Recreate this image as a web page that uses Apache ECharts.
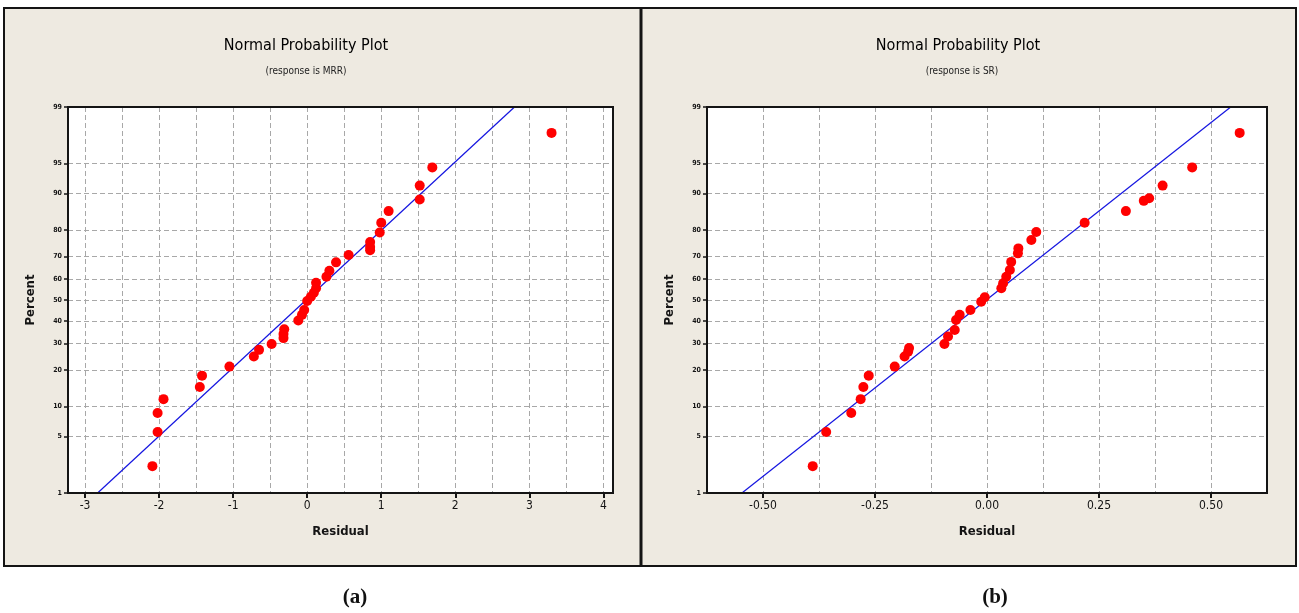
<!DOCTYPE html>
<html><head><meta charset="utf-8">
<script src="https://cdn.jsdelivr.net/npm/echarts@6/dist/echarts.min.js"></script>
<style>html,body{margin:0;padding:0;background:#fff}#c{width:1299px;height:613px}</style>
</head><body><div id="c"></div>
<script>
// ---------- data ----------
const pctTicks = [1, 5, 10, 20, 30, 40, 50, 60, 70, 80, 90, 95, 99];
const xTicksA = [-3, -2, -1, 0, 1, 2, 3, 4];
const xGridA = [-3, -2.5, -2, -1.5, -1, -0.5, 0, 0.5, 1, 1.5, 2, 2.5, 3, 3.5, 4];
const xTicksB = [-0.5, -0.25, 0, 0.25, 0.5];

// panel (a): response is MRR
const residA = [-2.09, -2.02, -2.02, -1.94, -1.45, -1.42, -1.05, -0.72, -0.65, -0.48, -0.32, -0.32, -0.31, -0.12, -0.07, -0.04, 0.00, 0.05, 0.09, 0.12, 0.12, 0.26, 0.30, 0.39, 0.56, 0.85, 0.85, 0.85, 0.98, 1.00, 1.10, 1.52, 1.52, 1.69, 3.30];
const pctA   = [2.26, 5.59, 8.66, 11.6, 14.7, 18.1, 21.1, 24.8, 27.4, 29.8, 32.3, 34.1, 36.2, 40.2, 42.9, 45.2, 49.5, 51.6, 53.5, 55.6, 58.2, 61.0, 63.8, 67.5, 70.6, 72.6, 73.9, 75.8, 79.2, 82.4, 85.8, 88.7, 91.6, 94.5, 97.8];
const fitResidA = [-2.83, 2.80];
const fitPctA = [1, 99];

// panel (b): response is SR
const residB = [-0.389, -0.359, -0.303, -0.282, -0.276, -0.264, -0.206, -0.184, -0.176, -0.174, -0.095, -0.087, -0.072, -0.069, -0.061, -0.037, -0.013, -0.005, 0.032, 0.036, 0.043, 0.051, 0.054, 0.069, 0.070, 0.099, 0.110, 0.218, 0.310, 0.350, 0.362, 0.392, 0.458, 0.564];
const pctB   = [2.26, 5.59, 8.66, 11.6, 14.7, 18.1, 21.1, 24.8, 26.7, 28.1, 29.8, 33.0, 35.9, 40.5, 42.9, 45.2, 49.2, 51.3, 55.6, 58.0, 61.0, 64.1, 67.7, 71.3, 73.3, 76.5, 79.4, 82.4, 85.8, 88.4, 89.0, 91.6, 94.5, 97.8];
const fitResidB = [-0.547, 0.544];
const fitPctB = [1, 99];

// ---------- normal probability scale ----------
function probit(p) {
  const a=[-3.969683028665376e+01,2.209460984245205e+02,-2.759285104469687e+02,1.383577518672690e+02,-3.066479806614716e+01,2.506628277459239e+00];
  const b=[-5.447609879822406e+01,1.615858368580409e+02,-1.556989798598866e+02,6.680131188771972e+01,-1.328068155288572e+01];
  const c=[-7.784894002430293e-03,-3.223964580411365e-01,-2.400758277161838e+00,-2.549732539343734e+00,4.374664141464968e+00,2.938163982698783e+00];
  const d=[7.784695709041462e-03,3.224671290700398e-01,2.445134137142996e+00,3.754408661907416e+00];
  const pl=0.02425, ph=1-pl; let q, r;
  if (p < pl) { q=Math.sqrt(-2*Math.log(p)); return (((((c[0]*q+c[1])*q+c[2])*q+c[3])*q+c[4])*q+c[5])/((((d[0]*q+d[1])*q+d[2])*q+d[3])*q+1); }
  if (p <= ph) { q=p-0.5; r=q*q; return (((((a[0]*r+a[1])*r+a[2])*r+a[3])*r+a[4])*r+a[5])*q/(((((b[0]*r+b[1])*r+b[2])*r+b[3])*r+b[4])*r+1); }
  q=Math.sqrt(-2*Math.log(1-p)); return -(((((c[0]*q+c[1])*q+c[2])*q+c[3])*q+c[4])*q+c[5])/((((d[0]*q+d[1])*q+d[2])*q+d[3])*q+1);
}
const z = pct => probit(pct / 100);
const yTickZ = pctTicks.map(z);
const yMin = z(1) - 1e-6, yMax = z(99) + 1e-6;
function pctLabel(v) {
  let best = 0, bd = Infinity;
  yTickZ.forEach((t, i) => { const dd = Math.abs(t - v); if (dd < bd) { bd = dd; best = i; } });
  return String(pctTicks[best]);
}
const pts = (xs, ps) => xs.map((x, i) => [x, z(ps[i])]);

// ---------- styles ----------
const BEIGE = '#EEEAE1', DARK = '#141414';
const NARROW = '"Liberation Sans Narrow", "DejaVu Sans Condensed", sans-serif';
const gridLine = { show: true, lineStyle: { color: '#a8a8a8', type: [5, 3], width: 1 } };

function xPrimary(gridIndex, min, max, ticks, fmt) {
  return {
    type: 'value', gridIndex, min, max, position: 'bottom',
    name: 'Residual', nameLocation: 'middle', nameGap: 32,
    nameTextStyle: { fontFamily: NARROW, fontWeight: 'bold', fontSize: 13, color: DARK },
    axisLine: { show: false, onZero: false },
    axisTick: { show: true, inside: false, length: 5, customValues: ticks, lineStyle: { color: DARK, width: 2 } },
    axisLabel: { customValues: ticks, formatter: fmt, fontFamily: NARROW, fontSize: 12, color: DARK, margin: 7 },
    splitLine: { show: false }
  };
}
function xSecondary(gridIndex, min, max, extra) {
  return Object.assign({
    type: 'value', gridIndex, min, max, position: 'bottom',
    axisLine: { show: false, onZero: false }, axisLabel: { show: false },
    splitLine: gridLine
  }, extra);
}
function yAxisP(gridIndex) {
  return {
    type: 'value', gridIndex, min: yMin, max: yMax, position: 'left',
    name: 'Percent', nameLocation: 'middle', nameGap: 31,
    nameTextStyle: { fontFamily: NARROW, fontWeight: 'bold', fontSize: 13, color: DARK },
    axisLine: { show: false, onZero: false },
    axisTick: { show: true, length: 4, customValues: yTickZ, lineStyle: { color: DARK, width: 1.5 } },
    axisLabel: { customValues: yTickZ, formatter: pctLabel, fontFamily: NARROW, fontWeight: 'bold', fontSize: 7, color: DARK, margin: 6 },
    splitLine: gridLine
  };
}

const chart = echarts.init(document.getElementById('c'), null, { renderer: 'canvas' });
const option = {
  animation: false,
  backgroundColor: '#ffffff',
  grid: [
    { left: 68, top: 107, width: 545, height: 386, show: true, backgroundColor: '#ffffff', borderWidth: 0 },
    { left: 707, top: 107, width: 560, height: 386, show: true, backgroundColor: '#ffffff', borderWidth: 0 }
  ],
  xAxis: [
    xPrimary(0, -3.23, 4.13, xTicksA, v => String(v)),
    xSecondary(0, -3.23, 4.13, { axisTick: { show: false, customValues: xGridA } }),
    xPrimary(1, -0.625, 0.625, xTicksB, v => v.toFixed(2)),
    xSecondary(1, -0.625, 0.625, { interval: 0.125, axisTick: { show: false } })
  ],
  yAxis: [yAxisP(0), yAxisP(1)],
  graphic: [
    { type: 'rect', z: -10, shape: { x: 4, y: 8, width: 1292, height: 558 }, style: { fill: BEIGE, stroke: DARK, lineWidth: 2 } },
    { type: 'line', z: 50, shape: { x1: 641, y1: 8, x2: 641, y2: 566 }, style: { stroke: DARK, lineWidth: 3 } },
    { type: 'rect', z: 50, shape: { x: 68, y: 107, width: 545, height: 386 }, style: { fill: 'none', stroke: DARK, lineWidth: 2 } },
    { type: 'rect', z: 50, shape: { x: 707, y: 107, width: 560, height: 386 }, style: { fill: 'none', stroke: DARK, lineWidth: 2 } },
    { type: 'text', z: 50, x: 306, y: 46, style: { text: 'Normal Probability Plot', fontFamily: NARROW, fontSize: 16, fill: '#000', textAlign: 'center', textVerticalAlign: 'middle' } },
    { type: 'text', z: 50, x: 306, y: 71, style: { text: '(response is MRR)', fontFamily: NARROW, fontSize: 10, fill: '#222', textAlign: 'center', textVerticalAlign: 'middle' } },
    { type: 'text', z: 50, x: 958, y: 46, style: { text: 'Normal Probability Plot', fontFamily: NARROW, fontSize: 16, fill: '#000', textAlign: 'center', textVerticalAlign: 'middle' } },
    { type: 'text', z: 50, x: 962, y: 71, style: { text: '(response is SR)', fontFamily: NARROW, fontSize: 10, fill: '#222', textAlign: 'center', textVerticalAlign: 'middle' } },
    { type: 'text', z: 50, x: 355, y: 598, style: { text: '(a)', fontFamily: '"Liberation Serif", serif', fontWeight: 'bold', fontSize: 21, fill: '#111', textAlign: 'center', textVerticalAlign: 'middle' } },
    { type: 'text', z: 50, x: 995, y: 598, style: { text: '(b)', fontFamily: '"Liberation Serif", serif', fontWeight: 'bold', fontSize: 21, fill: '#111', textAlign: 'center', textVerticalAlign: 'middle' } }
  ],
  series: [
    { type: 'line', xAxisIndex: 0, yAxisIndex: 0, data: pts(fitResidA, fitPctA), symbol: 'none', lineStyle: { color: '#1515e0', width: 1.2 }, z: 3 },
    { type: 'scatter', xAxisIndex: 0, yAxisIndex: 0, data: pts(residA, pctA), symbol: 'circle', symbolSize: 10, itemStyle: { color: '#ff0000', opacity: 1 }, z: 4 },
    { type: 'line', xAxisIndex: 2, yAxisIndex: 1, data: pts(fitResidB, fitPctB), symbol: 'none', lineStyle: { color: '#1515e0', width: 1.2 }, z: 3 },
    { type: 'scatter', xAxisIndex: 2, yAxisIndex: 1, data: pts(residB, pctB), symbol: 'circle', symbolSize: 10, itemStyle: { color: '#ff0000', opacity: 1 }, z: 4 }
  ]
};
chart.setOption(option);
</script>
</body></html>
